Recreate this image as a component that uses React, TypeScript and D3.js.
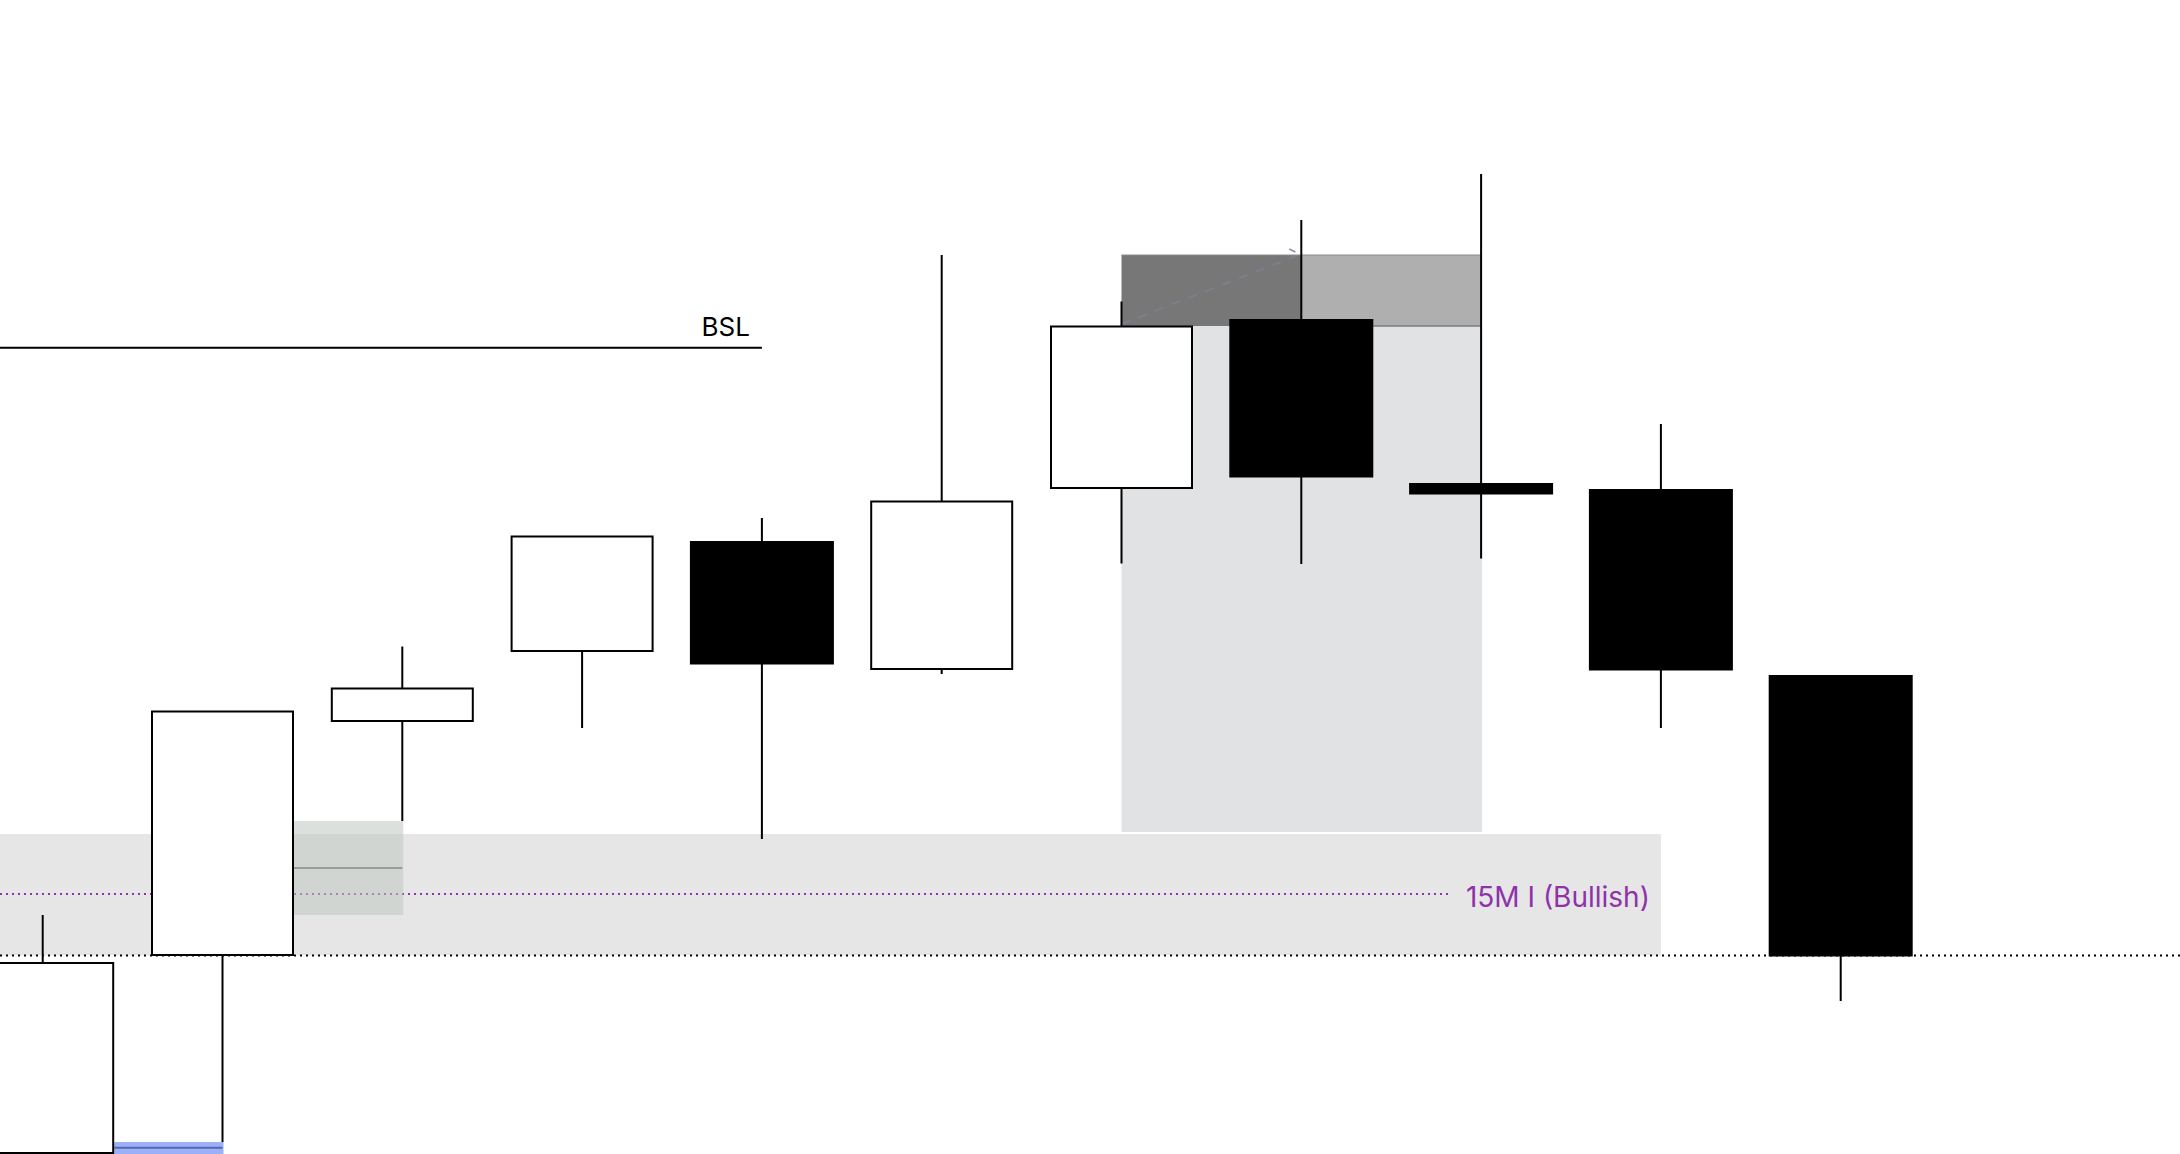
import React from "react";
import * as d3 from "d3";

// 15-minute candles, oldest first
const times = ["09:30", "09:45", "10:00", "10:15", "10:30", "10:45", "11:00", "11:15", "11:30", "11:45", "12:00"];
const opens = [100.1, 119.9, 143.3, 150.3, 161.3, 148.5, 166.6, 183.5, 167.1, 166.5, 147.9];
const highs = [123.9, 144.25, 150.75, 161.75, 163.6, 189.9, 185.25, 193.4, 198.0, 173.0, 147.9];
const lows = [98.5, 101.2, 133.3, 142.6, 131.5, 148.0, 159.05, 159.0, 159.55, 142.6, 115.3];
const closes = [119.1, 144.25, 146.55, 161.75, 148.95, 165.25, 182.75, 167.65, 165.95, 148.35, 119.75];

// Levels and zones (prices)
const bslLevel = 180.63;
const zoneTop = 132.0;
const zoneBottom = 119.85;
const zoneMid = 126.0;
const zoneLabel = "15M I (Bullish)";
const openLevel = 119.85;
const premiumTop = 189.9;
const premiumBottom = 182.8;
const rangeBottom = 132.2;
const sslTop = 101.2;
const sslLine = 100.63;
const sslBottom = 99.4;

const W = 2180;
const H = 1154;

export default function App() {
  const x = d3.scalePoint<string>().domain(times).range([42.7, 1840.7]);
  const y = d3.scaleLinear().domain([100, 215.4]).range([H, 0]);
  const xc = (i: number) => x(times[i]) as number;
  const half = 71.5;

  const candles = times.map((t, i) => ({
    t,
    o: opens[i],
    h: highs[i],
    l: lows[i],
    c: closes[i],
  }));

  // fair value gap between candle 0 high and candle 2 low
  const fvgTop = lows[2];
  const fvgBottom = highs[0];
  const fvgMid = (fvgTop + fvgBottom) / 2;

  const purple = "#8e33aa";

  return (
    <svg
      width={W}
      height={H}
      style={{ position: "absolute", left: 0, top: 0, display: "block", background: "#fff" }}
      fontFamily="Inter, 'Noto Sans', sans-serif"
    >
      <rect x={0} y={0} width={W} height={H} fill="#ffffff" />

      {/* order block zone */}
      <rect x={0} y={y(zoneTop)} width={xc(9)} height={y(zoneBottom) - y(zoneTop)} fill="#e6e6e6" />

      {/* dealing range below the premium boxes */}
      <rect
        x={xc(6)}
        y={y(premiumBottom)}
        width={xc(8) + 1 - xc(6)}
        height={y(rangeBottom) - y(premiumBottom)}
        fill="#e1e2e4"
      />

      {/* premium boxes */}
      <rect x={xc(6)} y={y(premiumTop)} width={xc(7) - xc(6)} height={y(premiumBottom) - y(premiumTop)} fill="#777777" />
      <rect x={xc(7)} y={y(premiumTop)} width={xc(8) - xc(7)} height={y(premiumBottom) - y(premiumTop)} fill="#afafaf" />
      <line x1={xc(6)} x2={xc(8)} y1={y(premiumTop)} y2={y(premiumTop)} stroke="#8c8c8c" strokeWidth={1} />
      <line x1={xc(7)} x2={xc(8)} y1={y(premiumBottom)} y2={y(premiumBottom)} stroke="#7b7c85" strokeWidth={1.5} />
      <line
        x1={xc(6)}
        y1={y(premiumBottom) - 2}
        x2={xc(7)}
        y2={y(premiumTop) - 1}
        stroke="rgba(140,150,190,0.3)"
        strokeWidth={2}
        strokeDasharray="9 9"
      />
      <line
        x1={xc(7) - 12}
        y1={y(premiumTop) - 6}
        x2={xc(7) - 6}
        y2={y(premiumTop) - 3}
        stroke="rgba(110,115,140,0.8)"
        strokeWidth={1.5}
      />

      {/* zone midline */}
      <line x1={0} x2={1452} y1={y(zoneMid)} y2={y(zoneMid)} stroke={purple} strokeWidth={2} strokeDasharray="2 4" />
      <text
        x={xc(9) - 11}
        y={y(zoneMid) + 13}
        textAnchor="end"
        fontSize={28}
        fill={purple}
      >
        {zoneLabel}
      </text>

      {/* fair value gap */}
      <rect
        x={xc(1) + half}
        y={y(fvgTop)}
        width={xc(2) + 1 - (xc(1) + half)}
        height={y(fvgBottom) - y(fvgTop)}
        fill="rgba(190,198,192,0.55)"
      />
      <line x1={xc(1) + half} x2={xc(2)} y1={y(fvgMid)} y2={y(fvgMid)} stroke="#999c99" strokeWidth={2} />

      {/* opening level */}
      <line x1={0} x2={W} y1={y(openLevel)} y2={y(openLevel)} stroke="#000" strokeWidth={2} strokeDasharray="2 4" />

      {/* buy-side liquidity */}
      <line x1={0} x2={xc(4)} y1={y(bslLevel)} y2={y(bslLevel)} stroke="#000" strokeWidth={2} />
      <text x={xc(4) - 12} y={y(bslLevel) - 11.7} textAnchor="end" fontSize={26} fill="#000">
        BSL
      </text>

      {/* sell-side marker */}
      <rect x={xc(0) + half} y={y(sslTop)} width={xc(1) + 1 - (xc(0) + half)} height={y(sslBottom) - y(sslTop)} fill="#9cb0f5" />
      <line x1={xc(0) + half} x2={xc(1)} y1={y(sslLine)} y2={y(sslLine)} stroke="#5366bb" strokeWidth={2} />

      {/* candles */}
      {candles.map((d, i) => {
        const cx = xc(i);
        const up = d.c >= d.o;
        const top = y(Math.max(d.o, d.c));
        const bot = y(Math.min(d.o, d.c));
        return (
          <g key={d.t}>
            <line x1={cx} x2={cx} y1={y(d.h)} y2={y(d.l)} stroke="#000" strokeWidth={2} />
            {up ? (
              <rect x={cx - half + 1} y={top} width={2 * half - 2} height={bot - top} fill="#fff" stroke="#000" strokeWidth={2} />
            ) : (
              <rect x={cx - 72} y={top} width={144} height={bot - top} fill="#000" />
            )}
          </g>
        );
      })}
    </svg>
  );
}
